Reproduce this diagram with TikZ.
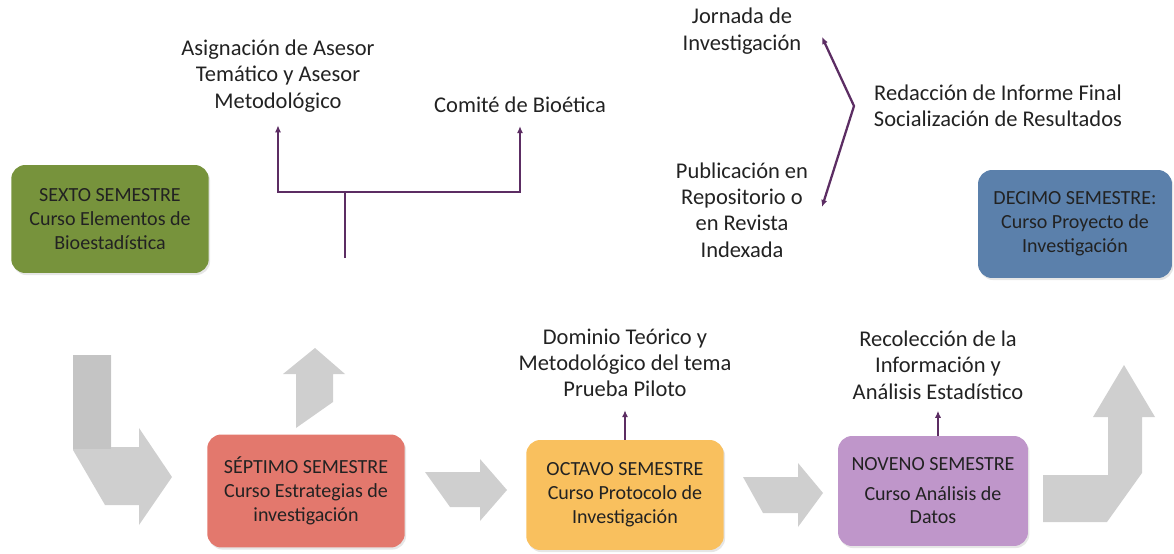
\documentclass[tikz,border=0pt]{standalone}
\usepackage{fontspec}
\setmainfont{Carlito}
\usetikzlibrary{arrows.meta, positioning, shadows}

\begin{document}
\begin{tikzpicture}[
    x=0.02cm, y=-0.02cm,
    >={Latex[length=4pt,width=3.5pt]},
    node distance=0.7cm
]

\definecolor{colorsexto}{HTML}{77933C}
\definecolor{colorseptimo}{HTML}{E3786D}
\definecolor{coloroctavo}{HTML}{F9C05E}
\definecolor{colornoveno}{HTML}{BF96CA}
\definecolor{colordecimo}{HTML}{5B80AB}

\definecolor{linepurple}{HTML}{5C2D63}
\definecolor{arrowgray}{HTML}{CFCFCF}
\definecolor{arrowdark}{HTML}{C4C4C4}
\definecolor{mytext}{HTML}{222222}

\tikzset{
    semestre/.style={
        rectangle,
        rounded corners=8pt,
        minimum width=3.95cm,
        minimum height=2.2cm,
        text=mytext,
        align=center,
        font=\fontsize{11.4}{13.6}\selectfont,
        drop shadow={opacity=0.2, shadow xshift=0.8pt, shadow yshift=-1.2pt}
    },
    etiqueta/.style={
        align=center,
        text=mytext,
        font=\fontsize{12.8}{15}\selectfont
    },
    flecha/.style={
        ->,
        draw=linepurple,
        line width=1.3pt,
        shorten >=4pt
    },
    rama/.style={draw=linepurple, line width=1.3pt},
    bloque/.style={fill=arrowgray, draw=none}
}

\useasboundingbox (0,0) rectangle (1174,554);

% Gray block arrows
\fill[bloque] (73,355) -- (111,355) -- (111,447) -- (139,447) -- (139,428) -- (172,477) -- (139,525) -- (139,505) -- (105,505) -- (73,450) -- cycle;
\fill[arrowdark] (73,355) rectangle (111,449);
\fill[bloque] (296,428) -- (296,374) -- (283,374) -- (315,348) -- (345,374) -- (333,374) -- (333,402) -- cycle;
\fill[bloque] (425,472) -- (480,472) -- (480,459) -- (507,490) -- (480,521) -- (480,507) -- (450,507) -- cycle;
\fill[bloque] (743,477) -- (798,477) -- (798,463) -- (823,493) -- (798,527) -- (798,513) -- (763,513) -- cycle;
\fill[bloque] (1043,475) -- (1108,475) -- (1108,417) -- (1093,417) -- (1124,365) -- (1155,417) -- (1142,417) -- (1142,473) -- (1107,522) -- (1043,522) -- cycle;

% Nodes
\node[semestre, fill=colorsexto, minimum height=2.16cm] (sexto) at (110,219) {SEXTO SEMESTRE\\Curso Elementos de\\Bioestadística};
\node[semestre, fill=colorseptimo, minimum height=2.26cm] (septimo) at (306,491) {SÉPTIMO SEMESTRE\\Curso Estrategias de\\investigación};
\node[semestre, fill=coloroctavo] (octavo) at (625,495) {OCTAVO SEMESTRE\\Curso Protocolo de\\Investigación};
\node[semestre, fill=colornoveno, minimum width=3.8cm] (noveno) at (933,491) {NOVENO SEMESTRE\\[3pt]Curso Análisis de\\Datos};
\node[semestre, fill=colordecimo, minimum width=3.88cm, minimum height=2.16cm] (decimo) at (1075,224) {DECIMO SEMESTRE:\\Curso Proyecto de\\Investigación};

% Labels
\node[etiqueta] (asesor) at (278,76) {Asignación de Asesor\\Temático y Asesor\\Metodológico};
\node[etiqueta] (bioetica) at (520,105) {Comité de Bioética};
\node[etiqueta] (jornada) at (742,31) {Jornada de\\Investigación};
\node[etiqueta] (publicacion) at (742,210) {Publicación en\\Repositorio o\\en Revista\\Indexada};
\node[etiqueta] (redaccion) at (998,106) {Redacción de Informe Final\\Socialización de Resultados};
\node[etiqueta, above=0.73cm of octavo] (dominio) {Dominio Teórico y\\Metodológico del tema\\Prueba Piloto};
\node[etiqueta] (recoleccion) at (938,365) {Recolección de la\\Información y\\Análisis Estadístico};

% Tree above the seventh semester
\coordinate (tallo) at (345,258);
\coordinate (cruce) at (345,192);
\draw[rama] (tallo) -- (cruce);
\draw[flecha] (cruce) -| (asesor.south);
\draw[flecha] (cruce) -| (bioetica.south);

% Bracket towards the final report
\coordinate (puntaj) at (822,37);
\coordinate (vertice) at (854,106);
\coordinate (puntap) at (822,207);
\draw[rama, <->] (puntaj) -- (vertice) -- (puntap);

% Short arrows up
\draw[flecha] (octavo.north) -- (dominio.south);
\draw[flecha, shorten >=3pt] (noveno.north -| recoleccion.south) -- (recoleccion.south);

\end{tikzpicture}
\end{document}
